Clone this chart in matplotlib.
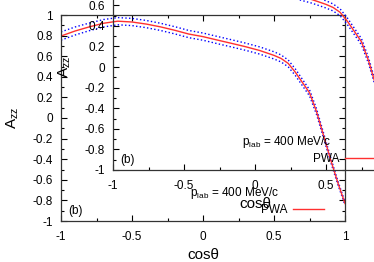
import matplotlib
matplotlib.use("Agg")
import matplotlib.pyplot as plt

plt.rcParams['font.family'] = ['Liberation Sans', 'DejaVu Sans']
plt.rcParams['mathtext.default'] = 'regular'

# PWA prediction for A_zz vs cos(theta), p_lab = 400 MeV/c
cos_t = [-1.0, -0.9, -0.8, -0.7, -0.6, -0.5, -0.4, -0.3, -0.2, -0.1, 0.0,
         0.1, 0.2, 0.3, 0.4, 0.5, 0.55, 0.6, 0.65, 0.7, 0.75, 0.8, 0.85,
         0.9, 0.95, 1.0]
azz = [0.796, 0.845, 0.885, 0.920, 0.940, 0.932, 0.912, 0.885, 0.852, 0.815,
       0.790, 0.757, 0.725, 0.692, 0.655, 0.608, 0.578, 0.530, 0.445, 0.345,
       0.245, 0.060, -0.175, -0.410, -0.630, -0.830]
azz_hi = [0.836, 0.884, 0.922, 0.956, 0.975, 0.967, 0.947, 0.920, 0.887, 0.850,
          0.825, 0.792, 0.760, 0.727, 0.690, 0.643, 0.612, 0.563, 0.477, 0.376,
          0.275, 0.088, -0.150, -0.388, -0.612, -0.815]
azz_lo = [0.756, 0.806, 0.848, 0.884, 0.905, 0.897, 0.877, 0.850, 0.817, 0.780,
          0.755, 0.722, 0.690, 0.657, 0.620, 0.573, 0.544, 0.497, 0.413, 0.314,
          0.215, 0.032, -0.200, -0.432, -0.648, -0.845]

xticks = [-1, -0.5, 0, 0.5, 1]
yticks = [-1, -0.8, -0.6, -0.4, -0.2, 0, 0.2, 0.4, 0.6, 0.8, 1]


def draw(ax):
    ax.plot(cos_t, azz_hi, color='blue', ls=':', lw=1.0)
    ax.plot(cos_t, azz_lo, color='blue', ls=':', lw=1.0)
    ax.plot(cos_t, azz, color='#ff3030', lw=1.0, label='PWA')
    ax.set_xlim(-1, 1)
    ax.set_ylim(-1, 1)
    ax.set_xticks(xticks)
    ax.set_xticklabels([f'{v:g}' for v in xticks])
    ax.set_yticks(yticks)
    ax.set_yticklabels([f'{v:g}' for v in yticks])
    ax.set_xticks([-0.75, -0.25, 0.25, 0.75], minor=True)
    ax.set_yticks([-0.9, -0.7, -0.5, -0.3, -0.1, 0.1, 0.3, 0.5, 0.7, 0.9], minor=True)
    ax.tick_params(which='both', direction='in', top=True, right=True, labelsize=8.5)
    ax.tick_params(which='major', length=4, width=0.8)
    ax.tick_params(which='minor', length=2.5, width=0.8)
    ax.tick_params(axis='y', pad=6)
    ax.tick_params(axis='x', pad=7)
    for s in ax.spines.values():
        s.set_linewidth(0.9)
        s.set_color('#333333')
    ax.set_xlabel('cosθ', fontsize=11, labelpad=4)
    ax.set_ylabel('A$_{zz}$', fontsize=11, labelpad=8)
    ax.text(-0.95, -0.9, '(b)', fontsize=8.5, va='center', ha='left')
    ax.text(0.54, -0.73, 'p$_{lab}$ = 400 MeV/c', fontsize=8.5, va='center', ha='right')
    ax.legend(loc='center right', bbox_to_anchor=(0.925, 0.055), frameon=False,
              markerfirst=False, fontsize=8.5, handlelength=2.6, handletextpad=0.5,
              borderpad=0, borderaxespad=0)
    ax.patch.set_alpha(0)


fig = plt.figure(figsize=(3.74, 2.62), dpi=100)
ax1 = fig.add_axes([61 / 374, 41 / 262, 284 / 374, 206 / 262])
draw(ax1)
ax2 = fig.add_axes([113 / 374, 92 / 262, 284 / 374, 206 / 262])
draw(ax2)

fig.savefig('out.png', dpi=100)
